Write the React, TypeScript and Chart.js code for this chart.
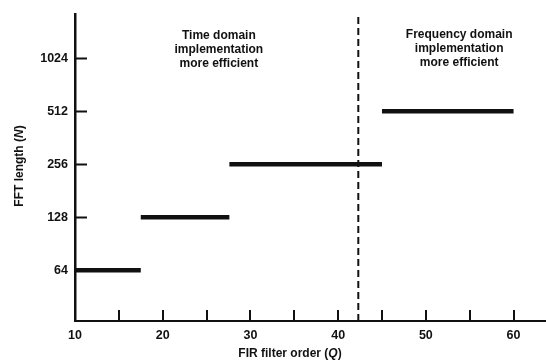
import React, { useEffect, useRef } from "react";
import { Chart, registerables } from "chart.js";

Chart.register(...registerables);

// FFT length N (y) selected for FIR filter order ranges (x)
const fftLengths = [64, 128, 256, 512];
const orderStart = [10, 17.5, 27.6, 45];
const orderEnd = [17.5, 27.6, 45, 60];
const crossoverOrder = 42.3;

const xTickLabels = [10, 20, 30, 40, 50, 60];
const xTickMarks = [15, 20, 25, 30, 35, 40, 45, 50, 55, 60];
const yTickLabels = [64, 128, 256, 512, 1024];

const X_MIN = 10;
const X_MAX = 63.7;
const Y_MIN = 33;
const Y_MAX = 1815;

const leftText = ["Time domain", "implementation", "more efficient"];
const rightText = ["Frequency domain", "implementation", "more efficient"];

const FONT = "'Liberation Sans', Arial, sans-serif";
const INK = "#111";

function drawMixed(ctx: any, parts: [string, boolean][], cx: number, cy: number, size: number) {
  const fontFor = (it: boolean) => `${it ? "italic " : ""}bold ${size}px ${FONT}`;
  const widths = parts.map(([t, it]) => {
    ctx.font = fontFor(it);
    return ctx.measureText(t).width;
  });
  const total = widths.reduce((a, b) => a + b, 0);
  let sx = cx - total / 2;
  ctx.textAlign = "left";
  ctx.textBaseline = "middle";
  parts.forEach(([t, it], i) => {
    ctx.font = fontFor(it);
    ctx.fillText(t, sx, cy);
    sx += widths[i];
  });
}

export default function App() {
  const ref = useRef<HTMLCanvasElement | null>(null);

  useEffect(() => {
    document.body.style.margin = "0";
    const canvas = ref.current;
    if (!canvas) return;

    const datasets: any[] = fftLengths.map((n, i) => ({
      label: `N=${n}`,
      data: [
        { x: orderStart[i], y: n },
        { x: orderEnd[i], y: n },
      ],
      borderColor: INK,
      borderWidth: 4.5,
      pointRadius: 0,
      borderCapStyle: "butt",
    }));
    datasets.push({
      label: "crossover",
      data: [
        { x: crossoverOrder, y: Y_MIN },
        { x: crossoverOrder, y: Y_MAX * 0.98 },
      ],
      borderColor: INK,
      borderWidth: 2,
      borderDash: [7, 4],
      pointRadius: 0,
    });

    const decor = {
      id: "decor",
      afterDraw(chart: any) {
        const ctx = chart.ctx;
        const xs = chart.scales.x;
        const ys = chart.scales.y;
        const ca = chart.chartArea;
        ctx.save();
        ctx.strokeStyle = INK;
        ctx.lineWidth = 2;
        for (const v of yTickLabels) {
          const py = Math.round(ys.getPixelForValue(v)) + 0.5;
          ctx.beginPath();
          ctx.moveTo(ca.left, py);
          ctx.lineTo(ca.left + 12, py);
          ctx.stroke();
        }
        for (const v of xTickMarks) {
          const px = Math.round(xs.getPixelForValue(v));
          ctx.beginPath();
          ctx.moveTo(px, ca.bottom);
          ctx.lineTo(px, ca.bottom - 11);
          ctx.stroke();
        }
        ctx.fillStyle = INK;
        ctx.textAlign = "center";
        ctx.textBaseline = "middle";
        ctx.font = `bold 12px ${FONT}`;
        const lx = xs.getPixelForValue(26.4);
        const rx = xs.getPixelForValue(53.8);
        leftText.forEach((t, i) => ctx.fillText(t, lx, 36 + i * 14));
        rightText.forEach((t, i) => ctx.fillText(t, rx, 35 + i * 14));

        // axis titles
        drawMixed(ctx, [["FIR filter order (", false], ["Q", true], [")", false]], 290, 354, 12);

        ctx.translate(20, 166);
        ctx.rotate(-Math.PI / 2);
        drawMixed(ctx, [["FFT length (", false], ["N", true], [")", false]], 0, 0, 12);
        ctx.restore();
      },
    };

    const chart = new Chart(canvas, {
      type: "line",
      data: { datasets },
      options: {
        animation: false,
        responsive: false,
        layout: { padding: { top: 13, right: 0, left: 0, bottom: 0 } },
        plugins: { legend: { display: false }, tooltip: { enabled: false } },
        scales: {
          x: {
            type: "linear",
            min: X_MIN,
            max: X_MAX,
            afterBuildTicks: (s: any) => {
              s.ticks = xTickLabels.map((v) => ({ value: v }));
            },
            afterFit: (s: any) => {
              s.height = 41;
            },
            grid: { display: false, drawTicks: false },
            border: { display: true, color: INK, width: 2 },
            ticks: {
              color: INK,
              padding: 7,
              font: { family: FONT, size: 12.5, weight: "bold" },
              callback: (v: any) => String(v),
            },
          },
          y: {
            type: "logarithmic",
            min: Y_MIN,
            max: Y_MAX,
            afterBuildTicks: (s: any) => {
              s.ticks = yTickLabels.map((v) => ({ value: v }));
            },
            afterFit: (s: any) => {
              s.width = 75;
            },
            grid: { display: false, drawTicks: false },
            border: { display: true, color: INK, width: 2.5 },
            ticks: {
              color: INK,
              padding: 7,
              font: { family: FONT, size: 12.5, weight: "bold" },
              callback: (v: any) => String(v),
            },
          },
        },
      },
      plugins: [decor],
    });
    return () => chart.destroy();
  }, []);

  return (
    <canvas
      ref={ref}
      width={546}
      height={362}
      style={{ position: "absolute", left: 0, top: 0, width: 546, height: 362, background: "#fff" }}
    />
  );
}
